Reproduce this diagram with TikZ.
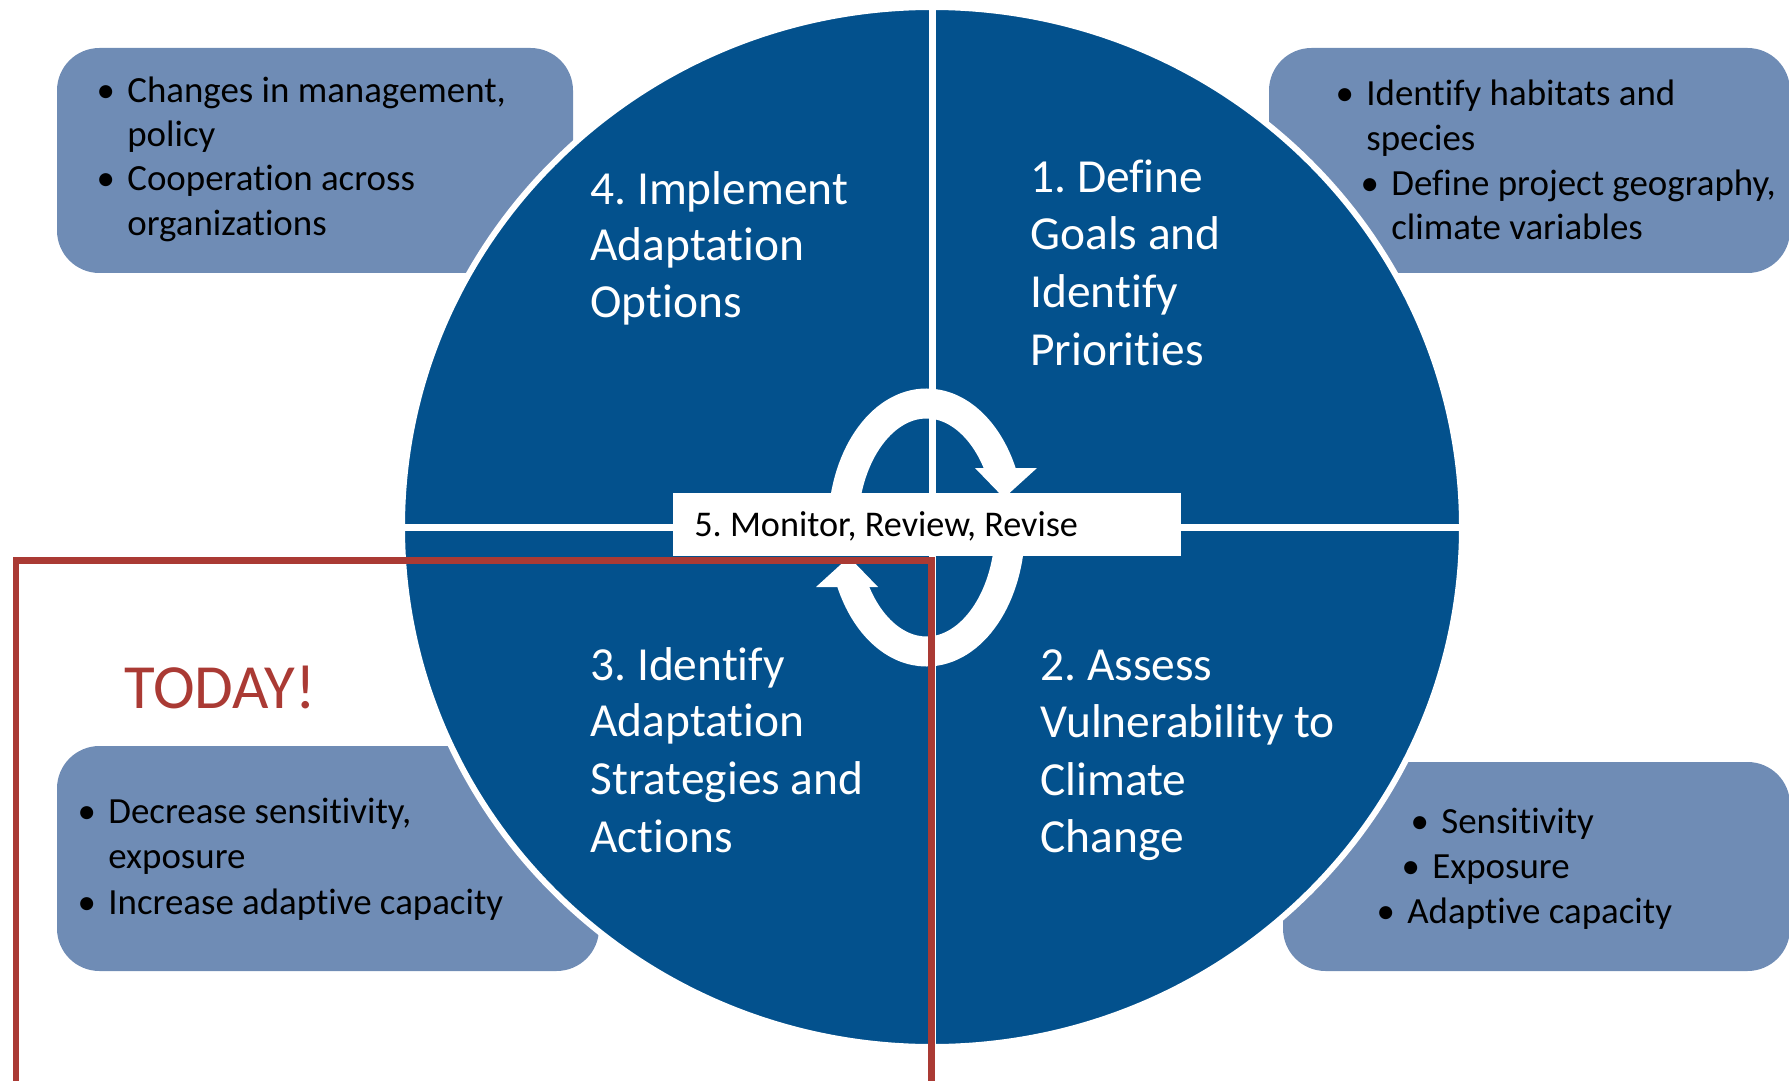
\documentclass[tikz,border=0pt]{standalone}
\usepackage{fontspec}
\setmainfont{Carlito}[Ligatures=NoCommon]
\usetikzlibrary{positioning}
\frenchspacing

\definecolor{cycleblue}{RGB}{3,81,141}
\definecolor{notefill}{RGB}{111,140,181}
\definecolor{todayred}{RGB}{170,58,52}

% bullet hanging to the left of the line start
\newcommand{\bul}{\llap{\textbullet\hspace{7pt}}}

\begin{document}
\begin{tikzpicture}[x=0.02cm,y=-0.02cm,
                    note/.style={fill=notefill, rounded corners=0.85cm},
                    line/.style={anchor=base west, inner sep=0pt, font=\fontsize{21}{24}\selectfont},
                    quad/.style={anchor=base west, inner sep=0pt, text=white, font=\fontsize{27}{32}\selectfont},
                    ring/.style={white, line width=0.6cm}]

  \useasboundingbox (0,0) rectangle (1789,1081);
  \clip (0,0) rectangle (1789,1081);

  % side notes behind the wheel
  \fill[note] (57,48)    rectangle (573,273);
  \fill[note] (1269,48)  rectangle (1790,273);
  \fill[note] (57,746)   rectangle (599,971);
  \fill[note] (1283,762) rectangle (1790,971);

  % the wheel and its four quarters
  \fill[cycleblue, draw=white, line width=0.12cm] (932,527) ellipse [x radius=530, y radius=520];
  \draw[white, line width=0.14cm] (932,0) -- (932,1081);
  \draw[white, line width=0.14cm] (390,527) -- (1475,527);

  % cycle arrows in the middle
  \draw[ring] (926.5,527.5) ++(180:83.5 and 124) arc [start angle=180, end angle=334, x radius=83.5, y radius=124];
  \draw[ring] (926.5,527.5) ++(0:83.5 and 124)   arc [start angle=0,   end angle=154, x radius=83.5, y radius=124];
  \fill[white] (975,468) -- (1037,468) -- (1004,498) -- cycle;
  \fill[white] (878,587) -- (816,587)  -- (849,557)  -- cycle;

  \fill[white] (673,493) rectangle (1181,556);
  \node[line, font=\fontsize{20.6}{24}\selectfont] at (694,536) (mon) {5. Monitor, Review, Revise};

  % quarter titles
  \node[quad] at (590,205)  (q4a) {4. Implement};
  \node[quad] at (590,261)  (q4b) {Adaptation};
  \node[quad] at (590,317)  (q4c) {Options};

  \node[quad] at (1030,193) (q1a) {1. Define};
  \node[quad] at (1030,250) (q1b) {Goals and};
  \node[quad] at (1030,308) (q1c) {Identify};
  \node[quad] at (1030,365) (q1d) {Priorities};

  \node[quad] at (590,680)  (q3a) {3. Identify};
  \node[quad] at (590,736)  (q3b) {Adaptation};
  \node[quad] at (590,794)  (q3c) {Strategies and};
  \node[quad] at (590,852)  (q3d) {Actions};

  \node[quad] at (1040,680) (q2a) {2. Assess};
  \node[quad] at (1040,737) (q2b) {Vulnerability to};
  \node[quad] at (1040,795) (q2c) {Climate};
  \node[quad] at (1040,852) (q2d) {Change};

  % note texts
  \node[line] at (127,103)  (n4a) {\bul Changes in management,};
  \node[line] at (127,147)  (n4b) {policy};
  \node[line] at (127,191)  (n4c) {\bul Cooperation across};
  \node[line] at (127,236)  (n4d) {organizations};

  \node[line] at (1366,106) (n1a) {\bul Identify habitats and};
  \node[line] at (1366,151) (n1b) {species};
  \node[line] at (1391,196) (n1c) {\bul Define project geography,};
  \node[line] at (1391,240) (n1d) {climate variables};

  \node[line] at (108,823)  (n3a) {\bul Decrease sensitivity,};
  \node[line] at (108,868)  (n3b) {exposure};
  \node[line] at (108,914)  (n3c) {\bul Increase adaptive capacity};

  \node[line] at (1441,833) (n2a) {\bul Sensitivity};
  \node[line] at (1432,878) (n2b) {\bul Exposure};
  \node[line] at (1407,923) (n2c) {\bul Adaptive capacity};

  % today frame
  \node[anchor=base west, inner sep=0pt, text=todayred, font=\fontsize{35.8}{40}\selectfont] at (124,708) (today) {TODAY!};
  \draw[todayred, line width=0.14cm] (16,1090) -- (16,560) -- (931,560) -- (931,1090);

\end{tikzpicture}
\end{document}
